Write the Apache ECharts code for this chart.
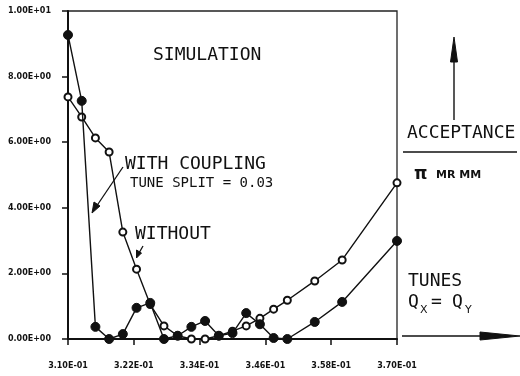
<!DOCTYPE html>
<html>
<head>
<meta charset="utf-8">
<style>
  html, body { margin: 0; padding: 0; background: #fff; }
  #chart { width: 520px; height: 376px; }
</style>
<script src="https://cdn.jsdelivr.net/npm/echarts@6/dist/echarts.min.js"></script>
</head>
<body>
<div id="chart"></div>
<script>
// ---- data ----
const tunesCoupled = [0.3100, 0.3125, 0.3150, 0.3175, 0.3200, 0.3225, 0.3250, 0.3275, 0.3300, 0.3325,
                      0.3350, 0.3375, 0.3400, 0.3425, 0.3450, 0.3475, 0.3500, 0.3550, 0.3600, 0.3700];
const acceptanceCoupled = [9.27, 7.26, 0.37, 0.00, 0.15, 0.95, 1.10, 0.00, 0.10, 0.37,
                           0.55, 0.10, 0.18, 0.79, 0.45, 0.03, 0.00, 0.52, 1.13, 2.99];
const tunesWithout = [0.3100, 0.3125, 0.3150, 0.3175, 0.3200, 0.3225, 0.3250, 0.3275, 0.3300, 0.3325,
                      0.3350, 0.3375, 0.3400, 0.3425, 0.3450, 0.3475, 0.3500, 0.3550, 0.3600, 0.3700];
const acceptanceWithout = [7.38, 6.77, 6.13, 5.70, 3.26, 2.13, 1.05, 0.40, 0.10, 0.00,
                           0.00, 0.10, 0.24, 0.40, 0.63, 0.91, 1.18, 1.77, 2.41, 4.76];
const xTickLabels = [0.310, 0.322, 0.334, 0.346, 0.358, 0.370];
const yTickLabels = [0, 2, 4, 6, 8, 10];

// ---- helpers ----
function sci(v) {
  const parts = Number(v).toExponential(2).split('e');
  let exp = parseInt(parts[1], 10);
  const sign = exp < 0 ? '-' : '+';
  exp = Math.abs(exp);
  return parts[0] + 'E' + sign + (exp < 10 ? '0' + exp : String(exp));
}
function pairs(xs, ys) { return xs.map((x, i) => [x, ys[i]]); }

const MONO = '"DejaVu Sans Mono", "Liberation Mono", monospace';
const TICKFONT = '"DejaVu Sans", sans-serif';

function txt(text, x, y, size, opts) {
  opts = opts || {};
  return {
    type: 'text', silent: true,
    style: {
      text: text, x: x, y: y,
      fill: '#111',
      font: (opts.weight || 'normal') + ' ' + size + 'px ' + (opts.family || MONO),
      align: 'left', verticalAlign: 'middle',
      textAlign: 'left', textVerticalAlign: 'middle'
    }
  };
}
function line(points, w) {
  return { type: 'polyline', silent: true, shape: { points: points },
           style: { stroke: '#111', lineWidth: w || 1.4, fill: null } };
}
function poly(points) {
  return { type: 'polygon', silent: true, shape: { points: points },
           style: { fill: '#111', stroke: '#111', lineWidth: 1 } };
}

const chart = echarts.init(document.getElementById('chart'), null, { renderer: 'canvas' });

const option = {
  backgroundColor: '#fff',
  animation: false,
  grid: {
    left: 68, right: 123, top: 11, bottom: 37,
    show: true, borderColor: '#222', borderWidth: 1.3, backgroundColor: 'transparent'
  },
  xAxis: {
    type: 'value',
    min: 0.31, max: 0.37,
    axisLine: { show: true, onZero: false, lineStyle: { color: '#111', width: 2 } },
    axisTick: { show: true, inside: false, length: 6, customValues: xTickLabels,
                lineStyle: { color: '#111', width: 1.5 } },
    axisLabel: {
      customValues: xTickLabels,
      formatter: sci, margin: 23,
      color: '#111', fontSize: 8, fontWeight: 'bold', fontFamily: TICKFONT
    },
    splitLine: { show: false }
  },
  yAxis: {
    type: 'value',
    min: 0, max: 10, interval: 2,
    axisLine: { show: true, onZero: false, lineStyle: { color: '#111', width: 2 } },
    axisTick: { show: true, inside: false, length: 6, lineStyle: { color: '#111', width: 1.5 } },
    axisLabel: {
      customValues: yTickLabels,
      formatter: sci, margin: 17,
      color: '#111', fontSize: 8, fontWeight: 'bold', fontFamily: TICKFONT
    },
    splitLine: { show: false }
  },
  series: [
    {
      name: 'WITHOUT',
      type: 'line',
      data: pairs(tunesWithout, acceptanceWithout),
      symbol: 'emptyCircle', symbolSize: 7,
      lineStyle: { color: '#111', width: 1.4 },
      itemStyle: { color: '#111', borderColor: '#111', borderWidth: 1.4 },
      z: 2
    },
    {
      name: 'WITH COUPLING',
      type: 'line',
      data: pairs(tunesCoupled, acceptanceCoupled),
      symbol: 'circle', symbolSize: 9,
      lineStyle: { color: '#111', width: 1.4 },
      itemStyle: { color: '#111', borderColor: '#111' },
      z: 3
    }
  ],
  graphic: [
    txt('SIMULATION', 153, 55, 18),
    txt('WITH COUPLING', 125, 164, 18),
    txt('TUNE SPLIT = 0.03', 130, 183, 14),
    txt('WITHOUT', 135, 234, 18),
    txt('ACCEPTANCE', 407, 133, 18),
    line([[403, 152], [517, 152]], 1.4),
    txt('π', 414, 175, 17, { family: '"DejaVu Sans", sans-serif', weight: 'bold' }),
    txt('MR MM', 436, 175, 11, { family: '"DejaVu Sans", sans-serif', weight: 'bold' }),
    txt('TUNES', 408, 281, 18),
    txt('Q', 408, 302, 18),
    txt('X', 420, 310, 11, { family: '"DejaVu Sans", sans-serif' }),
    txt('=', 431, 302, 18),
    txt('Q', 452, 302, 18),
    txt('Y', 465, 310, 11, { family: '"DejaVu Sans", sans-serif' }),
    // acceptance up arrow
    line([[454, 120], [454, 58]], 1.4),
    poly([[454, 37], [450.5, 62], [457.5, 62]]),
    // tunes right arrow
    line([[402, 336], [482, 336]], 1.6),
    poly([[520, 336], [480, 332], [480, 340]]),
    // WITH COUPLING pointer
    line([[123, 167], [96, 207]], 1.3),
    poly([[92, 213], [94, 202], [100, 206]]),
    // WITHOUT pointer
    line([[143, 246], [139, 253]], 1.3),
    poly([[136.5, 258], [136.5, 250], [141.5, 253]])
  ]
};
chart.setOption(option);
</script>
</body>
</html>
